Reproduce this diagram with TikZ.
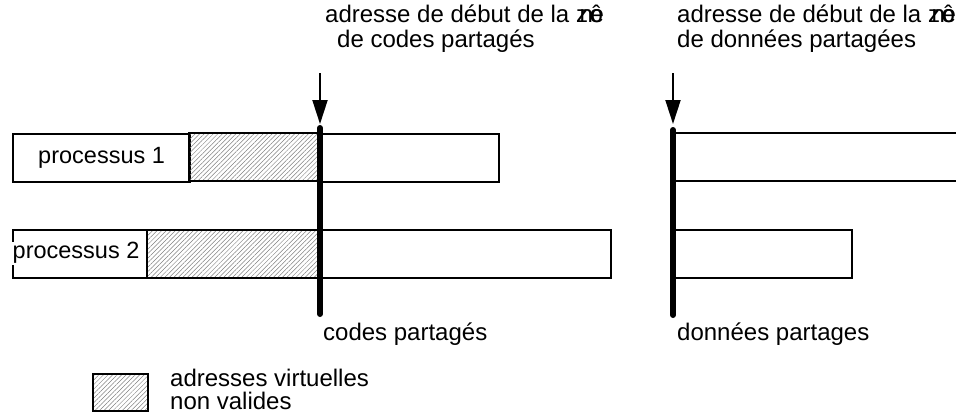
\documentclass[tikz,border=0pt]{standalone}
\usepackage{fontspec}
\setmainfont{Liberation Sans}
\usetikzlibrary{patterns.meta,arrows.meta}
\newcommand{\zonetxt}{\rlap{z}\kern3.5pt\rlap{n}\kern10pt\rlap{ô}\kern1pt e}
\begin{document}
\begin{tikzpicture}[x=1pt,y=-1pt,
 box/.style={draw=black, line width=2.2pt, fill=white, inner sep=0pt, anchor=north west},
 hatch/.style={draw=black, line width=2.2pt, inner sep=0pt, anchor=north west,
   pattern={Lines[angle=45,distance=3.2pt,line width=0.5pt]}, pattern color=gray},
 txt/.style={font=\fontsize{24}{26}\selectfont, inner sep=0pt},
 ptxt/.style={font=\fontsize{23.5}{26}\selectfont},
 bar/.style={line width=6pt, line cap=round},
 arr/.style={line width=2pt, -{Triangle[width=15pt,length=24pt]}}
]
\useasboundingbox (0,0) rectangle (956,415);
% row 1
\node[box, minimum width=177pt, minimum height=48pt, ptxt] (p1) at (12,133) {processus 1};
\node[hatch, minimum width=129pt, minimum height=48pt] (h1) at (189,133) {};
\node[box, minimum width=178pt, minimum height=48pt] (c1) at (320,133) {};
% row 2
\node[box, minimum width=134pt, minimum height=48pt] (p2) at (12,229) {};
\node[hatch, minimum width=172pt, minimum height=48pt] (h2) at (146,229) {};
\node[box, minimum width=290pt, minimum height=48pt] (c2) at (320,229) {};
\node[ptxt, fill=white, anchor=west, inner xsep=0.5pt, inner ysep=0pt, text height=17pt, text depth=6pt] (p2t) at (12,253) {processus 2};
% data boxes
\coordinate (d1a) at (673,133);
\coordinate (d1b) at (956,133);
\coordinate (d1c) at (673,181);
\coordinate (d1d) at (956,181);
\draw[line width=2.2pt] (d1a) -- (d1b) (d1c) -- (d1d);
\node[box, minimum width=178pt, minimum height=48pt] (d2) at (673,229) {};
% bars
\coordinate (b1t) at (320,128);
\coordinate (b1b) at (320,314);
\draw[bar] (b1t) -- (b1b);
\coordinate (b2t) at (673,130);
\coordinate (b2b) at (673,315);
\draw[bar] (b2t) -- (b2b);
% arrows
\coordinate (a1s) at (320,73);
\coordinate (a1e) at (320,124);
\draw[arr] (a1s) -- (a1e);
\coordinate (a2s) at (673,73);
\coordinate (a2e) at (673,124);
\draw[arr] (a2s) -- (a2e);
% labels top
\node[txt, anchor=base west] (l1a) at (325,22) {adresse de début de la \zonetxt};
\node[txt, anchor=base west] (l1b) at (337,47) {de codes partagés};
\node[txt, anchor=base west] (l2a) at (677,22) {adresse de début de la \zonetxt};
\node[txt, anchor=base west] (l2b) at (677,47) {de données partagées};
% labels bottom
\node[txt, anchor=base west] (l3) at (323,340) {codes partagés};
\node[txt, anchor=base west] (l4) at (677,340) {données partages};
% legend
\node[hatch, line width=2pt, minimum width=55pt, minimum height=37pt] (lg) at (92,373) {};
\node[txt, anchor=base west] (lg1) at (170,386) {adresses virtuelles};
\node[txt, anchor=base west] (lg2) at (170,409) {non valides};
\end{tikzpicture}
\end{document}
